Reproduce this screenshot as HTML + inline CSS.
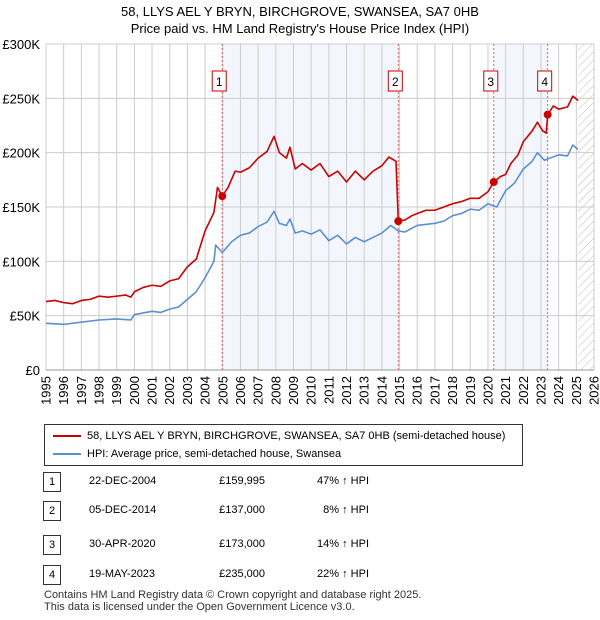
<!DOCTYPE html>
<html><head><meta charset="utf-8"><style>
body{margin:0;background:#fff;font-family:"Liberation Sans","DejaVu Sans",sans-serif;}
#wrap{position:relative;width:600px;height:620px;overflow:hidden}
.t{position:absolute;font-size:12px;color:#000;white-space:nowrap}
</style></head><body><div id="wrap">
<svg id="chart" width="600" height="410" style="position:absolute;left:0;top:0"></svg>
<div style="position:absolute;left:44px;top:424px;width:479px;height:42px;border:1px solid #333;box-sizing:border-box">
 <div style="position:absolute;left:8px;top:5px;font-size:11px"><span style="display:inline-block;width:28px;height:2px;background:#cc0000;vertical-align:middle;margin-right:6px"></span>58, LLYS AEL Y BRYN, BIRCHGROVE, SWANSEA, SA7 0HB (semi-detached house)</div>
 <div style="position:absolute;left:8px;top:23px;font-size:11px"><span style="display:inline-block;width:28px;height:2px;background:#5b8fd4;vertical-align:middle;margin-right:6px"></span>HPI: Average price, semi-detached house, Swansea</div>
</div>
<div id="table"></div>
<div class="t" style="left:44px;top:589px;font-size:11px;color:#333;line-height:12px">Contains HM Land Registry data © Crown copyright and database right 2025.<br>This data is licensed under the Open Government Licence v3.0.</div>
</div>
<script>
const redX=[1995,1995.5,1996,1996.5,1997,1997.5,1998,1998.5,1999,1999.5,1999.8,2000,2000.5,2001,2001.5,2002,2002.5,2003,2003.5,2004,2004.5,2004.7,2004.97,2005.3,2005.7,2006,2006.5,2007,2007.5,2007.9,2008.2,2008.6,2008.8,2009.1,2009.5,2010,2010.5,2011,2011.5,2012,2012.5,2013,2013.5,2014,2014.4,2014.8,2014.93,2015.3,2015.7,2016,2016.5,2017,2017.5,2018,2018.5,2019,2019.5,2020,2020.33,2020.7,2021,2021.3,2021.7,2022,2022.5,2022.8,2023.1,2023.3,2023.38,2023.7,2024,2024.5,2024.8,2025.1];
const redY=[63,64,62,61,64,65,68,67,68,69,67,72,76,78,77,82,84,95,102,128,145,168,160,168,183,182,186,195,201,215,200,195,205,185,190,184,190,178,183,173,183,175,183,188,196,192,137,138,142,144,147,147,150,153,155,158,158,164,173,178,180,190,198,210,220,228,220,218,235,243,240,242,252,248];
const blueX=[1995,1996,1997,1998,1999,1999.8,2000,2001,2001.5,2002,2002.5,2003,2003.5,2004,2004.5,2004.6,2004.97,2005.5,2006,2006.5,2007,2007.5,2007.9,2008.2,2008.6,2008.8,2009.1,2009.5,2010,2010.5,2011,2011.5,2012,2012.5,2013,2013.5,2014,2014.5,2014.93,2015.3,2016,2017,2017.5,2018,2018.5,2019,2019.5,2020,2020.5,2020.7,2021,2021.5,2022,2022.5,2022.8,2023.2,2023.5,2024,2024.5,2024.8,2025.1];
const blueY=[43,42,44,46,47,46,51,54,53,56,58,65,72,85,100,115,108,118,124,126,132,136,146,135,133,139,126,128,125,129,119,124,116,122,118,122,126,133,128,127,133,135,137,142,144,148,147,153,150,156,165,172,185,192,200,193,195,198,197,207,203];
const saleX=[2004.97,2014.93,2020.33,2023.38];
const saleY=[159.995,137,173,235];
const saleLabels=["1","2","3","4"];
const saleDates=["22-DEC-2004","05-DEC-2014","30-APR-2020","19-MAY-2023"];
const salePrices=["£159,995","£137,000","£173,000","£235,000"];
const salePct=["47% ↑ HPI","8% ↑ HPI","14% ↑ HPI","22% ↑ HPI"];
const yTicks=[0,50,100,150,200,250,300];
const yTickLabels=["£0","£50K","£100K","£150K","£200K","£250K","£300K"];
const xTicks=[1995,1996,1997,1998,1999,2000,2001,2002,2003,2004,2005,2006,2007,2008,2009,2010,2011,2012,2013,2014,2015,2016,2017,2018,2019,2020,2021,2022,2023,2024,2025,2026];

const L=46,R=594,T=44,B=370;
const x=v=>L+(v-1995)/(2026-1995)*(R-L);
const y=v=>B-v/300*(B-T);
const svg=document.getElementById('chart');
const NS='http://www.w3.org/2000/svg';
function mk(tag,at){const e=document.createElementNS(NS,tag);for(const k in at)e.setAttribute(k,at[k]);svg.appendChild(e);return e;}
let e;
for(const [a,b] of [[0,1],[2,3]]){
 e=mk('rect',{x:x(saleX[a]),y:T,width:x(saleX[b])-x(saleX[a]),height:B-T,fill:'#eef3fc',opacity:0.7});
 
 
}
const defs=mk('defs',{});
defs.innerHTML='<pattern id="h" width="6" height="6" patternUnits="userSpaceOnUse" patternTransform="rotate(45)"><line x1="0" y1="0" x2="0" y2="6" stroke="#bbb" stroke-width="1"/></pattern>';
e=mk('rect',{x:x(2025.1),y:T,width:R-x(2025.1),height:B-T,fill:'url(#h)'});


yTicks.forEach((v,i)=>{
 e=mk('line',{x1:L,x2:R,y1:y(v),y2:y(v),stroke:'#ccc','stroke-width':1});
 
 
 e=mk('text',{x:L-6,y:y(v)+5,'text-anchor':'end','font-size':13,fill:'#000'});e.textContent=yTickLabels[i];
 
 
});
xTicks.forEach(v=>{
 e=mk('line',{x1:x(v),x2:x(v),y1:T,y2:B,stroke:'#ccc','stroke-width':1});
 
 
 e=mk('text',{x:x(v)+4.5,y:B+6,'text-anchor':'end','font-size':13,fill:'#000',transform:'rotate(-90 '+(x(v)+4.5)+' '+(B+6)+')'});e.textContent=v;
 
 
});
e=mk('line',{x1:L,x2:R,y1:B,y2:B,stroke:'#999'});


saleX.forEach(v=>{
 e=mk('line',{x1:x(v),x2:x(v),y1:T,y2:B,stroke:'#e06060','stroke-dasharray':'2,2','stroke-width':1});
 
 
});
function line(xs,ys,col,name){
 e=mk('polyline',{points:xs.map((v,i)=>x(v)+','+y(ys[i])).join(' '),fill:'none',stroke:col,'stroke-width':1.6,'stroke-linejoin':'round'});
 
 
}
line(blueX,blueY,'#5b8fd4','hpi-line');
line(redX,redY,'#cc0000','price-line');
saleX.forEach((v,i)=>{
 e=mk('circle',{cx:x(v),cy:y(saleY[i]),r:4,fill:'#cc0000'});
 
 
 e=mk('rect',{x:x(v)-10,y:71,width:14,height:20,fill:'#fff',stroke:'#cc0000'});
 
 
 e=mk('text',{x:x(v)-3,y:86,'text-anchor':'middle','font-size':12});e.textContent=saleLabels[i];
 
 
});
e=mk('text',{x:300,y:16,'text-anchor':'middle','font-size':13});e.textContent='58, LLYS AEL Y BRYN, BIRCHGROVE, SWANSEA, SA7 0HB';


e=mk('text',{x:300,y:33,'text-anchor':'middle','font-size':13});e.textContent="Price paid vs. HM Land Registry's House Price Index (HPI)";


const tb=document.getElementById('table');
const rowY=[482,511,545,575];
saleLabels.forEach((s,i)=>{
 const r=document.createElement('div');
 
 
 r.style.cssText='position:absolute;left:0;top:'+(rowY[i]-10)+'px;width:600px;height:20px';
 r.innerHTML='<div class="t" style="left:43px;top:0;width:18px;height:20px;border:1px solid #333;box-sizing:border-box;text-align:center;line-height:18px;font-size:11px">'+s+'</div>'+
 '<div class="t" style="left:89px;top:3px;font-size:11px">'+saleDates[i]+'</div>'+
 '<div class="t" style="left:175px;width:90px;text-align:right;top:3px;font-size:11px">'+salePrices[i]+'</div>'+
 '<div class="t" style="left:270px;width:99px;text-align:right;top:3px;font-size:11px">'+salePct[i]+'</div>';
 tb.appendChild(r);
});
</script></body></html>
